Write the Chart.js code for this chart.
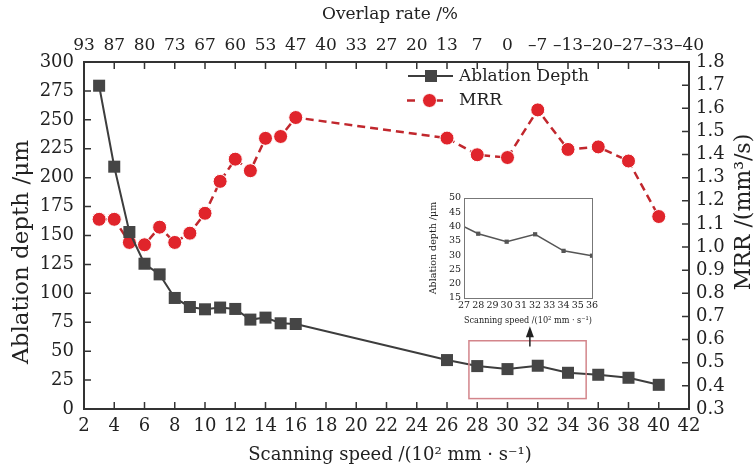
<!DOCTYPE html>
<html>
<head>
<meta charset="utf-8">
<script src="https://cdn.jsdelivr.net/npm/chart.js@4.4.1/dist/chart.umd.min.js"></script>
<style>
  body { margin: 0; background: #fff }
  #wrap { position: relative; width: 756px; height: 469px }
  #main { position: absolute; left: 0; top: 0 }
  #inset { position: absolute; left: 428px; top: 186px }
</style>
</head>
<body>
<div id="wrap">
  <canvas id="main" width="756" height="469"></canvas>
  <canvas id="inset" width="180" height="140"></canvas>
</div>
<script>
/* ====== DATA ====== */
const speed = [3, 4, 5, 6, 7, 8, 9, 10, 11, 12, 13, 14, 15, 16, 26, 28, 30, 32, 34, 36, 38, 40]
const depth = [279.5, 209.5, 153, 125.6, 116.4, 96, 88.2, 86.2, 87.7, 86.5, 77.3, 79, 74.1, 73.5, 42.3, 37.1, 34.5, 37.4, 31.3, 29.6, 27, 20.9]
const mrr = [1.12, 1.12, 1.02, 1.01, 1.086, 1.02, 1.06, 1.146, 1.284, 1.38, 1.33, 1.47, 1.478, 1.56, 1.471, 1.399, 1.387, 1.593, 1.422, 1.433, 1.372, 1.132]
const overlapLabels = ['93', '87', '80', '73', '67', '60', '53', '47', '40', '33', '27', '20', '13', '7', '0', '–7', '–13', '–20', '–27', '–33', '–40']

const insetSpeed = [27, 28, 30, 32, 34, 36]
const insetDepth = [40, 37.5, 34.7, 37.3, 31.5, 29.8]

// zoomed region marked on the main plot (data units)
const zoomBox = { x0: 27.45, x1: 35.2, y0: 9, y1: 59 }
const arrowAt = { x: 31.48, y0: 54, y1: 71.5 }

/* ====== STYLE ====== */
const serif = "'DejaVu Serif', serif"
const ink = '#222'
const frame = '#333'
const greyLine = '#3d3d3d'
const greyMark = '#454545'
const redLine = '#c1272d'
const redMark = '#e0242b'

/* ====== PLUGINS ====== */
const frameTicks = {
  id: 'frameTicks',
  afterDraw(chart) {
    const { ctx, chartArea: a, scales } = chart
    const len = 7
    ctx.save()
    ctx.strokeStyle = frame; ctx.lineWidth = 1.5
    ctx.beginPath()
    scales.x.ticks.forEach(t => {
      const p = scales.x.getPixelForValue(t.value)
      ctx.moveTo(p, a.bottom); ctx.lineTo(p, a.bottom - len)
      ctx.moveTo(p, a.top); ctx.lineTo(p, a.top + len)
    })
    scales.y.ticks.forEach(t => {
      const p = scales.y.getPixelForValue(t.value)
      ctx.moveTo(a.left, p); ctx.lineTo(a.left + len, p)
    })
    scales.y1.ticks.forEach(t => {
      const p = scales.y1.getPixelForValue(t.value)
      ctx.moveTo(a.right, p); ctx.lineTo(a.right - len, p)
    })
    ctx.stroke()
    ctx.restore()
  }
}

const axisTitles = {
  id: 'axisTitles',
  afterDraw(chart) {
    const { ctx } = chart
    ctx.save()
    ctx.fillStyle = ink
    ctx.textAlign = 'center'; ctx.textBaseline = 'middle'
    ctx.font = `18px ${serif}`
    ctx.fillText('Scanning speed /(10² mm · s⁻¹)', 390, 455)
    ctx.font = `17px ${serif}`
    ctx.fillText('Overlap rate /%', 390, 15)
    ctx.font = `23px ${serif}`
    ctx.translate(22, 252); ctx.rotate(-Math.PI / 2)
    ctx.fillText('Ablation depth /μm', 0, 0)
    ctx.restore()
    ctx.save()
    ctx.fillStyle = ink
    ctx.textAlign = 'center'; ctx.textBaseline = 'middle'
    ctx.font = `22px ${serif}`
    ctx.translate(744, 212); ctx.rotate(-Math.PI / 2)
    ctx.fillText('MRR /(mm³/s)', 0, 0)
    ctx.restore()
  }
}

const zoomMark = {
  id: 'zoomMark',
  afterDatasetsDraw(chart) {
    const { ctx, scales: { x, y } } = chart
    ctx.save()
    ctx.strokeStyle = '#d3858b'; ctx.lineWidth = 1.5
    const l = x.getPixelForValue(zoomBox.x0), r = x.getPixelForValue(zoomBox.x1)
    const t = y.getPixelForValue(zoomBox.y1), b = y.getPixelForValue(zoomBox.y0)
    ctx.strokeRect(l, t, r - l, b - t)
    const ax = x.getPixelForValue(arrowAt.x)
    const a0 = y.getPixelForValue(arrowAt.y0), a1 = y.getPixelForValue(arrowAt.y1)
    ctx.strokeStyle = '#222'; ctx.fillStyle = '#222'; ctx.lineWidth = 1.5
    ctx.beginPath(); ctx.moveTo(ax, a0); ctx.lineTo(ax, a1 + 8); ctx.stroke()
    ctx.beginPath(); ctx.moveTo(ax, a1); ctx.lineTo(ax - 4, a1 + 11); ctx.lineTo(ax + 4, a1 + 11); ctx.closePath(); ctx.fill()
    ctx.restore()
  }
}

const legendBox = {
  id: 'legendBox',
  afterDraw(chart) {
    const { ctx } = chart
    ctx.save()
    // Ablation Depth
    ctx.strokeStyle = greyLine; ctx.lineWidth = 2
    ctx.beginPath(); ctx.moveTo(408, 76); ctx.lineTo(453, 76); ctx.stroke()
    ctx.fillStyle = greyMark
    ctx.fillRect(425, 70, 12, 12)
    // MRR
    ctx.strokeStyle = redLine; ctx.lineWidth = 2.5
    ctx.beginPath(); ctx.moveTo(407, 100.5); ctx.lineTo(415, 100.5); ctx.moveTo(436, 100.5); ctx.lineTo(443, 100.5); ctx.stroke()
    ctx.fillStyle = redMark; ctx.strokeStyle = '#fff'; ctx.lineWidth = 1
    ctx.beginPath(); ctx.arc(429.5, 100.5, 7, 0, Math.PI * 2); ctx.fill(); ctx.stroke()
    ctx.fillStyle = ink; ctx.font = `17px ${serif}`
    ctx.textAlign = 'left'; ctx.textBaseline = 'middle'
    ctx.fillText('Ablation Depth', 459, 77)
    ctx.fillText('MRR', 459, 101)
    ctx.restore()
  }
}

/* ====== MAIN CHART ====== */
const tickFont = { family: serif, size: 18 }

new Chart(document.getElementById('main'), {
  type: 'line',
  data: {
    datasets: [
      {
        label: 'Ablation Depth',
        data: speed.map((s, i) => ({ x: s, y: depth[i] })),
        xAxisID: 'x', yAxisID: 'y',
        borderColor: greyLine, borderWidth: 2,
        pointStyle: 'rect', pointRadius: 8.5,
        pointBackgroundColor: greyMark, pointBorderColor: greyMark, pointBorderWidth: 0,
        tension: 0
      },
      {
        label: 'MRR',
        data: speed.map((s, i) => ({ x: s, y: mrr[i] })),
        xAxisID: 'x', yAxisID: 'y1',
        borderColor: redLine, borderWidth: 2.5, borderDash: [8, 5],
        pointStyle: 'circle', pointRadius: 7,
        pointBackgroundColor: redMark, pointBorderColor: '#fff', pointBorderWidth: 1,
        tension: 0
      }
    ]
  },
  options: {
    responsive: false, animation: false,
    layout: { padding: 0 },
    plugins: { legend: { display: false }, tooltip: { enabled: false } },
    scales: {
      x: {
        type: 'linear', position: 'bottom', min: 2, max: 42,
        ticks: { stepSize: 2, font: tickFont, color: ink, padding: 7, maxRotation: 0, autoSkip: false },
        grid: { display: false, drawTicks: false },
        border: { color: frame, width: 2 },
        afterFit: s => { s.height = 60 }
      },
      x2: {
        type: 'linear', position: 'top', min: 2, max: 42,
        ticks: { stepSize: 2, font: { family: serif, size: 17 }, color: ink, padding: 6, maxRotation: 0, autoSkip: false,
                 callback: (v, i) => overlapLabels[i] },
        grid: { display: false, drawTicks: false },
        border: { color: frame, width: 2 },
        afterFit: s => { s.height = 62 }
      },
      y: {
        type: 'linear', position: 'left', min: 0, max: 300,
        ticks: { stepSize: 25, font: tickFont, color: ink, padding: 10, autoSkip: false },
        grid: { display: false, drawTicks: false },
        border: { color: frame, width: 2 },
        afterFit: s => { s.width = 84 }
      },
      y1: {
        type: 'linear', position: 'right', min: 0.3, max: 1.8,
        ticks: { stepSize: 0.1, font: tickFont, color: ink, padding: 7, autoSkip: false, callback: v => v.toFixed(1) },
        grid: { display: false, drawTicks: false },
        border: { color: frame, width: 2 },
        afterFit: s => { s.width = 67 }
      }
    }
  },
  plugins: [zoomMark, frameTicks, axisTitles, legendBox]
})

/* ====== INSET ====== */
const insetFrame = {
  id: 'insetFrame',
  afterDraw(chart) {
    const { ctx, chartArea: a } = chart
    ctx.save()
    ctx.strokeStyle = '#777'; ctx.lineWidth = 1
    ctx.strokeRect(a.left + 0.5, a.top + 0.5, a.right - a.left, a.bottom - a.top)
    ctx.restore()
  }
}
const smallFont = { family: serif, size: 9.5 }

new Chart(document.getElementById('inset'), {
  type: 'line',
  data: {
    datasets: [{
      data: insetSpeed.map((s, i) => ({ x: s, y: insetDepth[i] })),
      borderColor: '#555', borderWidth: 1.5,
      pointStyle: 'rect', pointRadius: insetSpeed.map((s, i) => i === 0 ? 0 : 3),
      pointBackgroundColor: '#555', pointBorderWidth: 0,
      tension: 0
    }]
  },
  options: {
    responsive: false, animation: false,
    layout: { padding: { top: 12, right: 16 } },
    plugins: { legend: { display: false }, tooltip: { enabled: false } },
    scales: {
      x: {
        type: 'linear', min: 27, max: 36,
        ticks: { stepSize: 1, font: smallFont, color: ink, padding: 2, maxRotation: 0, autoSkip: false },
        grid: { display: false, drawTicks: false },
        border: { display: false },
        title: { display: true, text: 'Scanning speed /(10² mm · s⁻¹)', font: smallFont, color: ink, padding: 0 },
        afterFit: s => { s.height = 28 }
      },
      y: {
        type: 'linear', min: 15, max: 50,
        ticks: { stepSize: 5, font: smallFont, color: ink, padding: 3, autoSkip: false },
        grid: { display: false, drawTicks: false },
        border: { display: false },
        title: { display: true, text: 'Ablation depth /μm', font: smallFont, color: ink, padding: 0 },
        afterFit: s => { s.width = 36 }
      }
    }
  },
  plugins: [insetFrame]
})
</script>
</body>
</html>
